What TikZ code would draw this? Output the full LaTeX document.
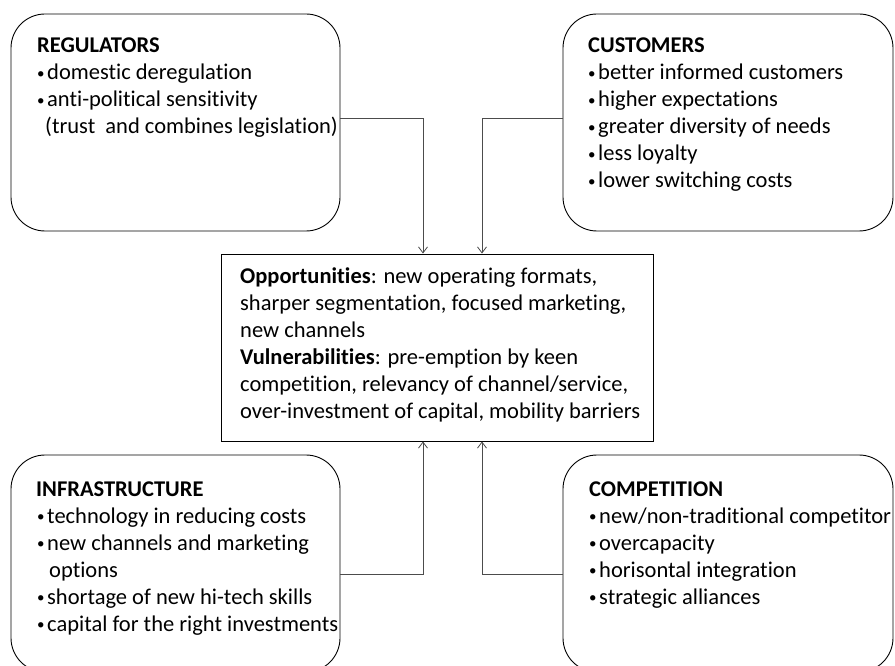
\documentclass[tikz,border=0pt]{standalone}
\usepackage{fontspec}
\setmainfont[RawFeature=-liga]{Carlito}
\usetikzlibrary{arrows.meta}
\newcommand{\mybul}{{\fontsize{15}{15}\selectfont\raisebox{1.5pt}{•}}}
\begin{document}
\begin{tikzpicture}[x=1pt,y=-1pt,
  box/.style={draw=black,line width=0.9pt,rounded corners=34pt,inner sep=0pt},
  cbox/.style={draw=black,line width=0.9pt,inner sep=0pt},
  txt/.style={anchor=base west,inner sep=0pt,font=\fontsize{22.5}{27}\selectfont},
  hd/.style={anchor=base west,inner sep=0pt,font=\fontsize{22.5}{27}\selectfont\bfseries},
  conn/.style={draw=black!70,line width=0.8pt,-{Straight Barb[length=6pt,width=9pt]}}]
\useasboundingbox (0,0) rectangle (895,666);
\clip (0,0) rectangle (895,666);
% boxes
\node[box,minimum width=329pt,minimum height=217pt] (reg) at (175.5,122.5) {};
\node[box,minimum width=330pt,minimum height=217pt] (cus) at (728,122.5) {};
\node[cbox,minimum width=432pt,minimum height=187pt] (ctr) at (437,347.5) {};
\node[box,minimum width=329pt,minimum height=217pt] (inf) at (175.5,563.5) {};
\node[box,minimum width=330pt,minimum height=217pt] (com) at (728,563.5) {};
% connector helpers
\coordinate (ytop) at (0,118);
\coordinate (ybot) at (0,574);
\coordinate (xl) at (423,0);
\coordinate (xr) at (482,0);
\draw[conn] (reg.east |- ytop) -| (ctr.north -| xl);
\draw[conn] (cus.west |- ytop) -| (ctr.north -| xr);
\draw[conn] (inf.east |- ybot) -| (ctr.south -| xl);
\draw[conn] (com.west |- ybot) -| (ctr.south -| xr);
% regulators
\node[hd] (r0) at (37,53) {REGULATORS};
\node[txt] (rb1) at (37,80) {\mybul};
\node[txt] (r1) at (47,80) {domestic deregulation};
\node[txt] (rb2) at (37,107) {\mybul};
\node[txt] (r2) at (47,107) {anti-political sensitivity};
\node[txt] (r3) at (45,134) {(trust~ and combines legislation)};
% customers
\node[hd] (c0) at (588,53) {CUSTOMERS};
\node[txt] (cb1) at (588,80) {\mybul};
\node[txt] (c1) at (598,80) {better informed customers};
\node[txt] (cb2) at (588,107) {\mybul};
\node[txt] (c2) at (598,107) {higher expectations};
\node[txt] (cb3) at (588,134) {\mybul};
\node[txt] (c3) at (598,134) {greater diversity of needs};
\node[txt] (cb4) at (588,161) {\mybul};
\node[txt] (c4) at (598,161) {less loyalty};
\node[txt] (cb5) at (588,188) {\mybul};
\node[txt] (c5) at (598,188) {lower switching costs};
% centre
\node[txt] (m1) at (240,283) {\textbf{Opportunities}: new operating formats,};
\node[txt] (m2) at (240,310) {sharper segmentation, focused marketing,};
\node[txt] (m3) at (240,337) {new channels};
\node[txt] (m4) at (240,364) {\textbf{Vulnerabilities}: pre-emption by keen};
\node[txt] (m5) at (240,391) {competition, relevancy of channel/service,};
\node[txt] (m6) at (240,418) {over-investment of capital, mobility barriers};
% infrastructure
\node[hd] (i0) at (36,496) {INFRASTRUCTURE};
\node[txt] (ib1) at (37,523) {\mybul};
\node[txt] (i1) at (47,523) {technology in reducing costs};
\node[txt] (ib2) at (37,550) {\mybul};
\node[txt] (i2) at (47,550) {new channels and marketing};
\node[txt] (i3) at (49,577) {options};
\node[txt] (ib3) at (37,604) {\mybul};
\node[txt] (i4) at (47,604) {shortage of new hi-tech skills};
\node[txt] (ib4) at (37,631) {\mybul};
\node[txt] (i5) at (47,631) {capital for the right investments};
% competition
\node[hd] (k0) at (589,496) {COMPETITION};
\begin{scope}
\clip (563,455) rectangle (892,680);
\node[txt] (kb1) at (589,523) {\mybul};
\node[txt] (k1) at (599,523) {new/non-traditional competitor};
\end{scope}
\node[txt] (kb2) at (589,550) {\mybul};
\node[txt] (k2) at (599,550) {overcapacity};
\node[txt] (kb3) at (589,577) {\mybul};
\node[txt] (k3) at (599,577) {horisontal integration};
\node[txt] (kb4) at (589,604) {\mybul};
\node[txt] (k4) at (599,604) {strategic alliances};
\end{tikzpicture}
\end{document}
